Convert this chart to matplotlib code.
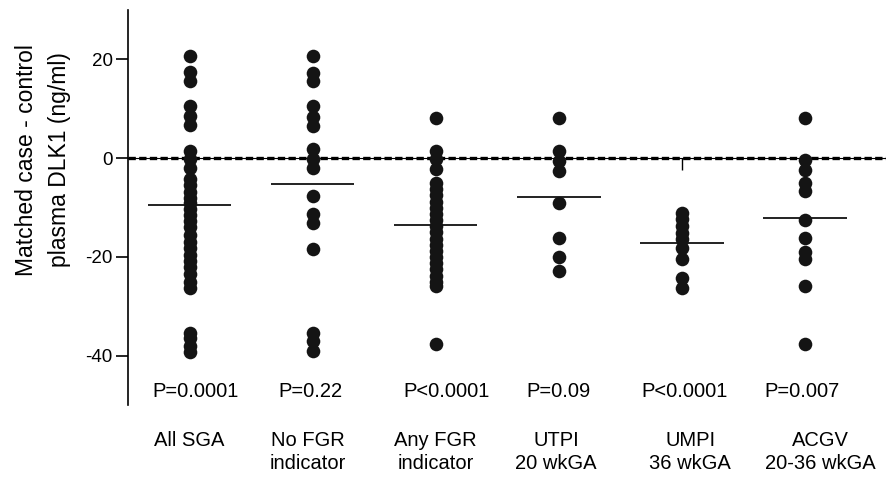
import matplotlib.pyplot as plt
import numpy as np

plt.rcParams['font.family'] = ['Liberation Sans', 'DejaVu Sans']

labels = ["All SGA", "No FGR\nindicator", "Any FGR\nindicator",
          "UTPI\n20 wkGA", "UMPI\n36 wkGA", "ACGV\n20-36 wkGA"]
pvals = ["P=0.0001", "P=0.22", "P<0.0001", "P=0.09", "P<0.0001", "P=0.007"]

all_sga = [20.6, 17.4, 15.6, 10.5, 8.5, 6.8, 1.4, -0.2, -2.0,
           -4.2, -5.5, -6.8, -8.0, -9.0, -10.2, -11.5, -12.8, -14.0, -15.5,
           -17.0, -18.2, -19.5, -20.8, -22.0, -23.5, -25.0, -26.3,
           -35.3, -36.5, -38.0, -39.2]
no_fgr = [20.6, 17.2, 15.6, 10.5, 8.3, 6.6, 1.8, -0.2, -1.9,
          -7.7, -11.3, -13.1, -18.4, -35.3, -37.0, -39.0]
any_fgr = [8.1, 1.4, -0.2, -2.2, -5.0, -6.3, -7.5, -8.8, -10.0, -11.3, -12.5,
           -13.8, -15.0, -16.3, -17.5, -18.8, -20.0, -21.3, -22.5, -23.8,
           -25.0, -25.9, -37.6]
utpi = [8.1, 1.4, -0.6, -2.5, -9.0, -16.1, -20.1, -22.8]
umpi = [-11.0, -12.3, -13.7, -15.1, -16.4, -18.1, -20.4, -24.2, -26.2]
acgv = [8.1, -0.4, -2.4, -5.0, -6.7, -12.5, -16.1, -19.0, -20.5, -25.9, -37.6]
groups = [all_sga, no_fgr, any_fgr, utpi, umpi, acgv]
centers = [-9.5, -5.2, -13.5, -7.9, -17.2, -12.2]
umpi_tick = -2.4

# text placement (x offsets in category units)
label_x = [0.0, 0.96, 2.0, 2.98, 4.07, 5.13]
pval_x = [0.05, 0.98, 2.09, 3.0, 4.02, 4.98]

fig = plt.figure(figsize=(8.86, 4.8), dpi=100)
ax = fig.add_axes([0.1445, 0.156, 0.8555, 0.823])

ax.axhline(0, color='black', lw=0.8, zorder=1)
ax.axhline(0, color='black', lw=2.4, ls=(0, (2.2, 1.0)), zorder=1)

for i, g in enumerate(groups):
    ax.plot(np.full(len(g), i), g, 'o', color='#141414', ms=9.8, mec='none', zorder=3)
    ax.hlines(centers[i], i - 0.34, i + 0.34, color='#222222', lw=1.4, zorder=2)
    ax.text(pval_x[i], -47.3, pvals[i], ha='center', va='center', fontsize=14.5)
    ax.text(label_x[i], -55.2, labels[i], ha='center', va='top', fontsize=14.5,
            linespacing=1.3, clip_on=False)

ax.vlines(4, umpi_tick, 0, color='black', lw=1.0, zorder=1)

ax.set_xlim(-0.5, 5.66)
ax.set_ylim(-50, 30)
ax.set_yticks([20, 0, -20, -40])
ax.set_yticklabels(['20', '0', '-20', '-40'])
ax.set_xticks([])
ax.tick_params(axis='y', length=9, width=1.2, pad=2, labelsize=13.5, direction='out')
for s in ['top', 'right', 'bottom']:
    ax.spines[s].set_visible(False)
ax.spines['left'].set_linewidth(1.2)

fig.text(43 / 886, 1 - 160 / 480, "Matched case - control\nplasma DLK1 (ng/ml)",
         rotation=90, ha='center', va='center', fontsize=16.5, linespacing=1.6)

fig.savefig('out.png', dpi=100)
